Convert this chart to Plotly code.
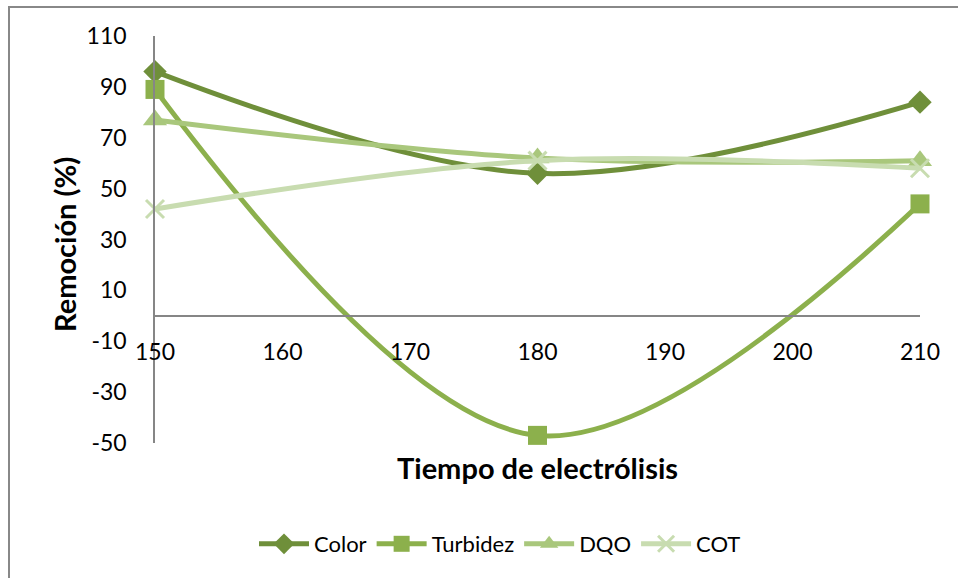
import plotly.graph_objects as go

tiempo = [150, 180, 210]
color_vals = [96, 56, 84]
turbidez_vals = [89, -47, 44]
dqo_vals = [77, 62, 61]
cot_vals = [42, 61, 58]

x_ticks = [150, 160, 170, 180, 190, 200, 210]
y_ticks = [-50, -30, -10, 10, 30, 50, 70, 90, 110]
y_labels = [str(v) for v in y_ticks]

FONT = "Lato"
W, H = 958, 578
L, R, T, B = 155, 38, 36, 135
PW, PH = W - L - R, H - T - B

def px_to_paper_x(px):
    return (px - L) / PW

def px_to_paper_y(py):
    return (H - B - py) / PH

series = [
    ("Color", color_vals, "#6f8f3a", dict(symbol="diamond", size=18)),
    ("Turbidez", turbidez_vals, "#8cb04c", dict(symbol="square", size=19)),
    ("DQO", dqo_vals, "#a9c77c", dict(symbol="triangle-up", size=21)),
    ("COT", cot_vals, "#c8dcb0", dict(symbol="x-thin", size=18)),
]

fig = go.Figure()
for name, vals, col, mk in series:
    marker = dict(color=col, **mk)
    if mk["symbol"] == "x-thin":
        marker["line"] = dict(width=3, color=col)
    else:
        marker["line"] = dict(width=0)
    fig.add_trace(go.Scatter(
        x=tiempo, y=vals, name=name, mode="lines+markers",
        line=dict(color=col, width=5, shape="spline", smoothing=1.0),
        marker=marker, cliponaxis=False,
    ))

ymin, ymax = -50, 110
fig.update_layout(
    width=W, height=H,
    margin=dict(l=L, r=R, t=T, b=B),
    paper_bgcolor="white", plot_bgcolor="white",
    font=dict(family=FONT, size=22, color="black"),
    showlegend=True,
    legend=dict(orientation="h", x=px_to_paper_x(500), xanchor="center",
                y=px_to_paper_y(544), yanchor="middle",
                font=dict(size=22), itemwidth=50, traceorder="normal"),
    xaxis=dict(range=[150, 210], tickvals=x_ticks, showgrid=False, zeroline=False,
               anchor="free", position=(0 - ymin) / (ymax - ymin),
               showline=True, linecolor="#868686", linewidth=1.5,
               ticks="", ticklabelstandoff=16, tickfont=dict(size=23)),
    yaxis=dict(range=[ymin, ymax], tickvals=y_ticks, ticktext=y_labels,
               showgrid=False, zeroline=False,
               showline=True, linecolor="#868686", linewidth=1.5,
               ticks="", ticklabelstandoff=22, tickfont=dict(size=23)),
    annotations=[
        dict(text="<b>Remoción (%)</b>", xref="paper", yref="paper",
             x=px_to_paper_x(64), y=px_to_paper_y(245), textangle=-90,
             showarrow=False, font=dict(size=29), xanchor="center", yanchor="middle"),
        dict(text="<b>Tiempo de electrólisis</b>", xref="paper", yref="paper",
             x=px_to_paper_x(537), y=px_to_paper_y(467),
             showarrow=False, font=dict(size=29), xanchor="center", yanchor="middle"),
    ],
    shapes=[
        dict(type="rect", xref="paper", yref="paper",
             x0=px_to_paper_x(9), x1=px_to_paper_x(1000),
             y0=px_to_paper_y(620), y1=px_to_paper_y(7),
             line=dict(color="#888888", width=2), fillcolor="rgba(0,0,0,0)", layer="below"),
    ],
)

fig.write_html("out.html")
